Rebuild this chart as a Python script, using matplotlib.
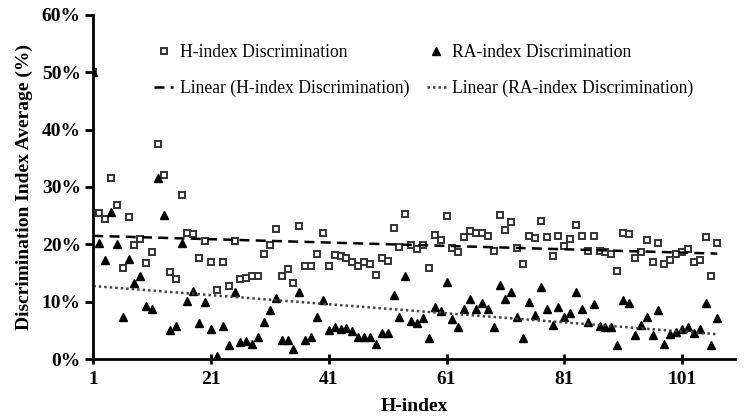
import numpy as np
import matplotlib
matplotlib.use("Agg")
import matplotlib.pyplot as plt
from matplotlib.ticker import PercentFormatter

plt.rcParams["font.family"] = ["Liberation Serif", "DejaVu Serif"]

# H-index values 1..107
h_index = list(range(1, 108))

# values in %
h_disc = [
    50.0, 25.5, 24.4, 31.6, 26.8, 15.9, 24.7, 19.9, 20.9, 16.7,
    18.6, 37.5, 32.1, 15.1, 13.9, 28.6, 22.0, 21.8, 17.7, 20.6,
    16.9, 12.0, 16.9, 12.8, 20.6, 14.0, 14.2, 14.5, 14.5, 18.3,
    19.9, 22.6, 14.4, 15.7, 13.2, 23.2, 16.3, 16.3, 18.3, 22.0,
    16.3, 18.2, 17.9, 17.7, 16.9, 16.2, 17.0, 16.5, 14.7, 17.7,
    17.1, 22.8, 19.5, 25.3, 19.9, 19.1, 19.9, 15.9, 21.6, 20.8,
    25.0, 19.3, 18.6, 21.2, 22.4, 22.0, 22.0, 21.5, 18.9, 25.1,
    22.5, 23.9, 19.4, 16.5, 21.5, 21.1, 24.1, 21.2, 18.0, 21.5,
    19.7, 20.9, 23.3, 21.5, 18.8, 21.5, 18.8, 18.7, 18.3, 15.4,
    22.0, 21.8, 17.7, 18.6, 20.7, 17.0, 20.2, 16.6, 17.2, 18.4,
    18.6, 19.1, 17.0, 17.3, 21.2, 14.4, 20.2,
]

ra_disc = [
    50.0, 20.2, 17.2, 25.7, 20.0, 7.3, 17.5, 13.2, 14.4, 9.2,
    8.7, 31.6, 25.1, 5.1, 5.8, 20.3, 10.1, 11.9, 6.2, 10.0,
    5.2, 0.5, 5.8, 2.4, 11.6, 2.9, 3.2, 2.6, 3.8, 6.4,
    8.6, 10.6, 3.4, 3.3, 1.7, 11.6, 3.3, 3.9, 7.3, 10.3,
    5.1, 5.6, 5.2, 5.4, 4.8, 3.9, 3.9, 3.9, 2.7, 4.5,
    4.5, 11.2, 7.3, 14.5, 6.6, 6.3, 7.1, 3.6, 9.0, 8.3,
    13.5, 7.0, 5.6, 8.7, 10.4, 8.7, 9.8, 8.7, 5.5, 12.9,
    10.5, 11.6, 7.4, 3.7, 10.0, 7.7, 12.6, 8.7, 5.9, 9.1,
    7.3, 8.1, 11.7, 8.7, 6.4, 9.6, 5.8, 5.6, 5.5, 2.4,
    10.3, 9.8, 4.2, 5.9, 7.4, 4.2, 8.6, 2.6, 4.3, 4.7,
    5.2, 5.5, 4.5, 5.2, 9.7, 2.4, 7.1,
]

x = np.array(h_index)
h = np.array(h_disc)
ra = np.array(ra_disc)

fig = plt.figure(figsize=(7.45, 4.16), dpi=100)
ax = fig.add_axes([0.1252, 0.137, 0.8614, 0.827])

sq, = ax.plot(x, h, linestyle="none", marker="s", markersize=5,
              markerfacecolor="white", markeredgecolor="#333333",
              markeredgewidth=1.4, label="H-index Discrimination")
tri, = ax.plot(x, ra, linestyle="none", marker="^", markersize=6,
               color="black", label="RA-index Discrimination")

# linear trend lines
ph = np.polyfit(x, h, 1)
pr = np.polyfit(x, ra, 1)
xl = np.array([x.min(), x.max()])
lh, = ax.plot(xl, np.polyval(ph, xl), color="black", linestyle=(0, (4, 2.5)),
              linewidth=1.8, label="Linear (H-index Discrimination)")
lr, = ax.plot(xl, np.polyval(pr, xl), color="#444444", linestyle=(0, (1, 1.2)),
              linewidth=1.8, label="Linear (RA-index Discrimination)")

ax.set_xlim(1, 110)
ax.set_ylim(0, 60)
ax.set_xticks([1, 21, 41, 61, 81, 101])
ax.set_yticks(range(0, 61, 10))
ax.yaxis.set_major_formatter(PercentFormatter(decimals=0))

for s in ["top", "right"]:
    ax.spines[s].set_visible(False)
for s in ["left", "bottom"]:
    ax.spines[s].set_linewidth(2)
ax.tick_params(axis="y", direction="out", length=6, width=2, labelsize=14, pad=3)
ax.tick_params(axis="x", direction="inout", length=7, width=2, labelsize=14, pad=5)
for lbl in ax.get_xticklabels() + ax.get_yticklabels():
    lbl.set_fontweight("bold")

ax.set_xlabel("H-index", fontsize=14, fontweight="bold", labelpad=7)
ax.set_ylabel("Discrimination Index Average (%)", fontsize=14,
              fontweight="bold", labelpad=6)

ax.legend(handles=[sq, lh, tri, lr], ncol=2, frameon=False, fontsize=12.7,
          loc="upper left", bbox_to_anchor=(0.07, 0.962),
          handlelength=1.1, handletextpad=0.35, columnspacing=1.0,
          labelspacing=1.05)

fig.savefig("out.png", dpi=100)
